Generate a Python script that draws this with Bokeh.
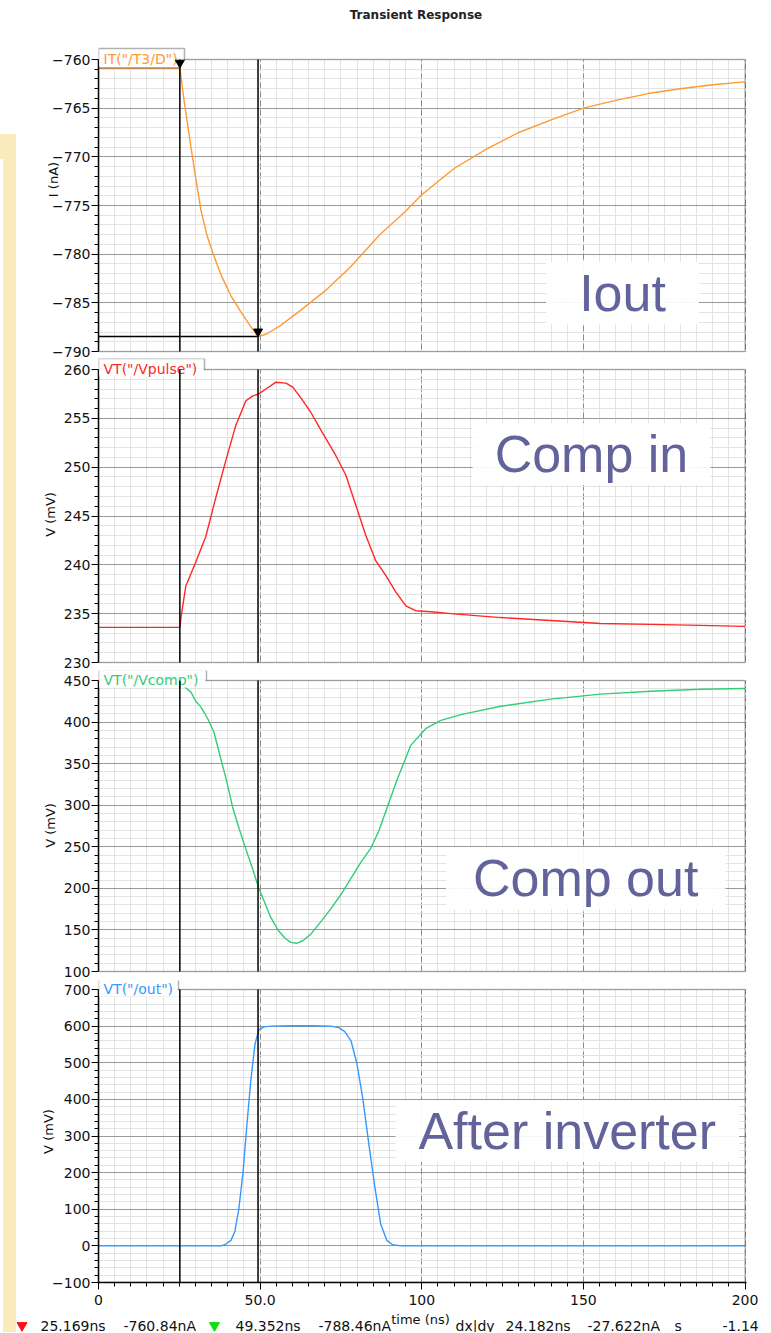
from bokeh.plotting import figure
from bokeh.models import (FixedTicker, SingleIntervalTicker, Label, Range1d, Div, Spacer,
                          BoxAnnotation)
from bokeh.layouts import column, row
from bokeh.embed import file_html
from bokeh.resources import INLINE
from bokeh.core.properties import value

# ---------------- data ----------------
time_ticks = [0, 50, 100, 150, 200]
time_tick_labels = ["0", "50.0", "100", "150", "200"]
time_minor_ticks = list(range(0, 201, 5))

iout_t = [0, 25.169, 25.8, 26.6, 27.4, 28.6, 30.0, 31.7, 33.5, 35.5, 38.0, 41.0, 44.0, 47.0, 49.352,
          52.0, 56.0, 62.0, 70.0, 78.0, 87.0, 95.0, 100.0, 110.0, 120.0, 130.0, 140.0, 150.0, 160.0,
          170.0, 180.0, 190.0, 200.0]
iout_na = [-760.84, -760.84, -762.5, -764.5, -766.3, -769.0, -772.0, -775.5, -778.0, -780.0, -782.2,
           -784.3, -785.9, -787.4, -788.46, -788.2, -787.4, -785.9, -783.8, -781.3, -778.0, -775.6,
           -773.9, -771.2, -769.2, -767.5, -766.2, -765.0, -764.2, -763.5, -763.0, -762.6, -762.3]

vpulse_t = [0, 25.169, 25.6, 27.0, 30.1, 33.2, 36.3, 39.4, 42.5, 45.6, 47.8, 49.6, 51.8, 54.9, 58.0,
            60.1, 62.6, 65.7, 68.8, 73.4, 76.5, 79.6, 82.7, 85.8, 88.9, 92.0, 95.1, 98.1, 102.8, 109.0,
            124.4, 139.9, 155.3, 170.8, 186.2, 200]
vpulse_mv = [233.6, 233.6, 234.8, 237.8, 240.3, 242.9, 246.9, 250.7, 254.3, 256.8, 257.3, 257.5, 258.0,
             258.7, 258.6, 258.2, 257.1, 255.6, 253.8, 251.2, 249.2, 246.1, 243.0, 240.4, 238.9, 237.2,
             235.8, 235.3, 235.2, 235.0, 234.6, 234.3, 234.0, 233.9, 233.8, 233.7]

vcomp_t = [0, 25.169, 26.4, 28.6, 30.1, 31.7, 33.8, 35.7, 37.9, 39.7, 41.6, 43.5, 45.6, 47.8, 49.6,
           51.5, 53.3, 55.5, 57.7, 59.5, 61.4, 63.2, 65.7, 68.8, 71.8, 74.9, 78.1, 81.1, 84.2, 86.7,
           89.2, 92.3, 96.6, 101.2, 105.9, 112.1, 124.4, 139.9, 155.3, 170.8, 186.2, 200]
vcomp_mv = [446, 446, 443, 436, 425, 418, 404, 388, 355, 328, 296, 272, 247, 222, 200, 182, 165, 150,
            140, 135, 134, 137, 145, 160, 175, 192, 212, 231, 248, 269, 296, 330, 372, 392, 402, 409,
            419, 427.6, 433.6, 437, 439.5, 440.4]

vout_t = [0, 38.0, 39.4, 41.0, 42.2, 43.4, 44.7, 45.9, 47.1, 48.4, 49.6, 51.2, 53.3, 60.0, 66.0, 71.9,
          74.3, 76.2, 78.1, 79.9, 81.8, 83.6, 85.5, 87.3, 89.2, 91.0, 93.6, 100, 150, 200]
vout_mv = [0, 0, 5, 15, 40, 100, 200, 330, 450, 550, 590, 598, 600, 601, 601, 600, 596, 585, 560, 500,
           400, 280, 160, 60, 15, 3, 0, 0, 0, 0]

cursor_t = [25.169, 49.352]
cursor_i = [-760.84, -788.46]

trace_names = ['IT("/T3/D")', 'VT("/Vpulse")', 'VT("/Vcomp")', 'VT("/out")']
trace_colors = ["#FF9933", "#FF2626", "#33CC77", "#3399FF"]
y_labels = ["I (nA)", "V (mV)", "V (mV)", "V (mV)"]
notes = ["Iout", "Comp in", "Comp out", "After inverter"]
status_texts = ["25.169ns", "-760.84nA", "49.352ns", "-788.46nA", "dx|dy", "24.182ns",
                "-27.622nA", "s", "-1.14"]

# ---------------- style / layout ----------------
FONT = "DejaVu Sans"
NOTE_FONT = "Liberation Sans"
NOTE_COLOR = "#62639B"
FIG_W = 754
X_END = 200.46          # frame slightly wider than 0..200 so the right border shows fully
YELLOW = "#F9EBBB"


def make_panel(t, v, color, yr, step, height, above, below, bottom_border,
               ylabel, lab_standoff, tab, tab_right, show_x):
    y0, y1 = yr
    frame_h = height - bottom_border
    k = (frame_h - above - below) / (y1 - y0)        # pixels per unit
    p = figure(width=FIG_W, height=height, x_range=Range1d(0, X_END),
               y_range=Range1d(y0 - below / k, y1 + above / k),
               x_axis_location="below" if show_x else None, y_axis_location="left",
               title_location=None, output_backend="svg", toolbar_location=None,
               min_border_left=82, min_border_right=24, min_border_top=0,
               min_border_bottom=bottom_border)
    p.background_fill_color = "white"
    p.border_fill_color = "white"
    p.outline_line_color = None

    xt = FixedTicker(ticks=time_ticks, minor_ticks=time_minor_ticks)
    yt = SingleIntervalTicker(interval=step, num_minor_ticks=5)
    p.xgrid.ticker = xt
    p.ygrid.ticker = yt
    p.xgrid.grid_line_color = "#8a8a8a"
    p.xgrid.grid_line_dash = "6 3"
    p.xgrid.minor_grid_line_color = "#e3e3e3"
    p.ygrid.grid_line_color = "#999999"
    p.ygrid.minor_grid_line_color = "#e3e3e3"

    ax = p.yaxis[0]
    ax.ticker = yt
    ax.bounds = (y0, y1)
    ax.axis_label = ylabel
    ax.axis_label_text_font = FONT
    ax.axis_label_text_font_size = "13px"
    ax.axis_label_text_font_style = "normal"
    ax.axis_label_text_color = "#111111"
    ax.axis_label_standoff = lab_standoff
    axes = [ax]
    if show_x:
        xa = p.xaxis[0]
        xa.ticker = xt
        xa.major_label_overrides = dict(zip(time_ticks, time_tick_labels))
        xa.major_label_standoff = 5
        axes.append(xa)
    for a in axes:
        a.axis_line_color = "black"
        a.axis_line_width = 1.5
        a.major_tick_line_color = "black"
        a.minor_tick_line_color = "black"
        a.major_tick_out = 7
        a.major_tick_in = 0
        a.minor_tick_out = 4
        a.minor_tick_in = 0
        a.major_label_text_font = FONT
        a.major_label_text_font_size = "14px"
        a.major_label_text_color = "#111111"
    ax.major_label_standoff = 1

    if color == trace_colors[0]:
        p.segment(x0=[0, 0], y0=cursor_i, x1=cursor_t, y1=cursor_i, line_color="black", line_width=1.5)
    p.line(t, v, line_color=color, line_width=1.4)

    # blank the gaps between panels, then the panel border
    p.add_layout(BoxAnnotation(bottom=y1, fill_color="white", fill_alpha=1, line_alpha=0))
    if below > 0:
        p.add_layout(BoxAnnotation(top=y0, fill_color="white", fill_alpha=1, line_alpha=0))
    p.add_layout(BoxAnnotation(left=0, right=200, bottom=y0, top=y1, fill_alpha=0,
                               line_color="#333333", line_width=1.5))
    # trace-name tab
    p.add_layout(BoxAnnotation(left=0, right=tab_right, bottom=y1, top=y1 + 11 / k,
                               fill_color="white", fill_alpha=1, line_color="black", line_width=1.5))
    p.add_layout(BoxAnnotation(left=0.25, right=tab_right - 0.25, bottom=y1 - 7 / k, top=y1 + 0.9 / k,
                               fill_color="white", fill_alpha=1, line_alpha=0))
    p.add_layout(Label(x=0, y=y1, text=tab, text_align="left", text_baseline="top",
                       x_offset=5, y_offset=9, text_font=FONT, text_font_size="14px",
                       text_color=color))
    # cursor lines
    p.segment(x0=cursor_t, y0=[y0, y0], x1=cursor_t, y1=[y1, y1], line_color="black",
              line_width=1.5, level="overlay")
    return p


def add_note(p, text, x, y, hpad):
    p.add_layout(Label(x=x, y=y, text=text, text_align="center", text_baseline="middle",
                       text_font=NOTE_FONT, text_font_size="52px", text_color=NOTE_COLOR,
                       background_fill_color="white", background_fill_alpha=0.92,
                       padding=dict(left=hpad, right=hpad, top=2, bottom=2)))


p1 = make_panel(iout_t, iout_na, trace_colors[0], (-790, -760), 5, 358, 59, 7, 0,
                y_labels[0], -12, trace_names[0], 26.6, False)
p2 = make_panel(vpulse_t, vpulse_mv, trace_colors[1], (230, 260), 5, 312, 11, 8, 0,
                y_labels[1], 3, trace_names[1], 32.8, False)
p3 = make_panel(vcomp_t, vcomp_mv, trace_colors[2], (100, 450), 50, 310, 10, 9, 0,
                y_labels[2], 3, trace_names[2], 33.4, False)
p4 = make_panel(vout_t, vout_mv, trace_colors[3], (-100, 700), 100, 332, 9, 0, 30,
                y_labels[3], -7, trace_names[3], 24.75, True)

# cursor markers on the current trace
p1.scatter(cursor_t, [c + 0.5 for c in cursor_i], marker="inverted_triangle", size=9,
           fill_color="black", line_color="black", level="overlay")

# title
p1.add_layout(Label(x=98.2, y=-760, text="Transient Response", text_align="center",
                    text_baseline="middle", y_offset=45, text_font=FONT, text_font_size="12px",
                    text_font_style="bold", text_color="#222222"))

add_note(p1, notes[0], 162.1, -784.0, 33)
add_note(p2, notes[1], 152.5, 251.35, 22)
add_note(p3, notes[2], 150.7, 212.3, 27)
add_note(p4, notes[3], 145.0, 313.4, 23)

# status line (page-pixel coordinates)
p5 = figure(width=FIG_W, height=20, x_range=Range1d(16, 16 + FIG_W), y_range=Range1d(1332, 1312),
            x_axis_location=None, y_axis_location=None, title_location=None,
            output_backend="svg", toolbar_location=None, min_border=0)
p5.frame_align = False
p5.grid.visible = False
p5.outline_line_color = None
p5.background_fill_color = "white"
status_x = [40, 123, 235, 318, 455, 505, 587, 674, 722]
p5.text(x=status_x, y=[1325] * len(status_x), text=status_texts, text_font=value(FONT),
        text_font_size=value("14px"), text_align="left", text_baseline="middle", text_color="#111111")
p5.text(x=[420], y=[1319], text=["time (ns)"], text_font=value(FONT), text_font_size=value("13px"),
        text_align="center", text_baseline="middle", text_color="#111111")
p5.scatter(x=[21.5, 214], y=[1325, 1325], marker="inverted_triangle", size=10,
           fill_color=["#FF1010", "#10DD10"], line_color=["#FF1010", "#10DD10"])

yellow = column(Spacer(width=16, height=134, margin=0),
                Div(text="", width=16, height=25, margin=0, styles={"background-color": YELLOW}),
                row(Spacer(width=3, height=1173, margin=0),
                    Div(text="", width=13, height=1173, margin=0, styles={"background-color": YELLOW}),
                    spacing=0),
                spacing=0)
layout = row(yellow, column(p1, p2, p3, p4, p5, spacing=0), spacing=0)

open("out.html", "w").write(file_html(layout, INLINE))
